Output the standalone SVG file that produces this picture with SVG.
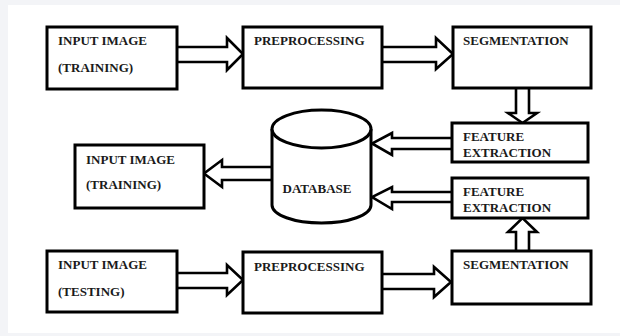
<svg xmlns="http://www.w3.org/2000/svg" width="620" height="336" viewBox="0 0 620 336">
<style>
.box{fill:#fff;stroke:#000;stroke-width:3}
.arr{fill:#fff;stroke:#000;stroke-width:2.6;stroke-linejoin:miter}
.db{fill:#fff;stroke:#000;stroke-width:3}
text{font-family:"Liberation Serif","Times New Roman",serif;font-weight:bold;font-size:13px;fill:#1a1a1a}
</style>
<rect x="0" y="0" width="620" height="336" fill="#f3f4f7"/>
<rect x="8" y="5" width="612" height="328" fill="#fff"/>
<g id="connectors">
<path class="arr" d="M177,47 L227,47 L227,38 L243,54 L227,70 L227,62 L177,62"/>
<path class="arr" d="M382,47 L436,47 L436,38 L453,54 L436,69 L436,62 L382,62"/>
<path class="arr" d="M516,88 L516,113 L508,113 L522.5,123 L537,113 L529,113 L529,88"/>
<path class="arr" d="M452,138 L392,138 L392,133 L372,143.5 L392,155 L392,149 L452,149"/>
<path class="arr" d="M452,192 L392,192 L392,187 L372,197 L392,209 L392,202 L452,202"/>
<path class="arr" d="M272,167 L222,167 L222,160 L204,173.5 L222,187 L222,180 L272,180"/>
<path class="arr" d="M177,273 L227,273 L227,265 L243,280 L227,295 L227,288 L177,288"/>
<path class="arr" d="M382,274 L434,274 L434,267 L451,282 L434,297 L434,289 L382,289"/>
<path class="arr" d="M516,251 L516,232 L508,232 L522.5,218 L537,232 L529,232 L529,251"/>
</g>
<g id="input-training">
<rect class="box" x="47" y="27" width="130" height="62"/>
<text x="58" y="45">INPUT IMAGE</text>
<text x="58" y="72">(TRAINING)</text>
</g>
<g id="preprocessing-1">
<rect class="box" x="243" y="27" width="139" height="61"/>
<text x="254" y="45">PREPROCESSING</text>
</g>
<g id="segmentation-1">
<rect class="box" x="453" y="27" width="138" height="61"/>
<text x="463" y="45">SEGMENTATION</text>
</g>
<g id="feature-extraction-1">
<rect class="box" x="452" y="123" width="136" height="39"/>
<text x="463" y="141">FEATURE</text>
<text x="463" y="157">EXTRACTION</text>
</g>
<g id="feature-extraction-2">
<rect class="box" x="452" y="178" width="136" height="40"/>
<text x="463" y="196">FEATURE</text>
<text x="463" y="212">EXTRACTION</text>
</g>
<g id="database">
<path class="db" d="M272,129 L272,205 A49.5,18 0 0 0 371,205 L371,129"/>
<ellipse class="db" cx="321.5" cy="129" rx="49.5" ry="19"/>
<text x="317" y="193" text-anchor="middle">DATABASE</text>
</g>
<g id="input-training-2">
<rect class="box" x="75" y="145" width="129" height="63"/>
<text x="86" y="164">INPUT IMAGE</text>
<text x="86" y="189">(TRAINING)</text>
</g>
<g id="input-testing">
<rect class="box" x="47" y="251" width="130" height="61"/>
<text x="58" y="269">INPUT IMAGE</text>
<text x="58" y="296">(TESTING)</text>
</g>
<g id="preprocessing-2">
<rect class="box" x="243" y="252" width="139" height="61"/>
<text x="254" y="271">PREPROCESSING</text>
</g>
<g id="segmentation-2">
<rect class="box" x="452" y="251" width="139" height="53"/>
<text x="463" y="269">SEGMENTATION</text>
</g>
</svg>
